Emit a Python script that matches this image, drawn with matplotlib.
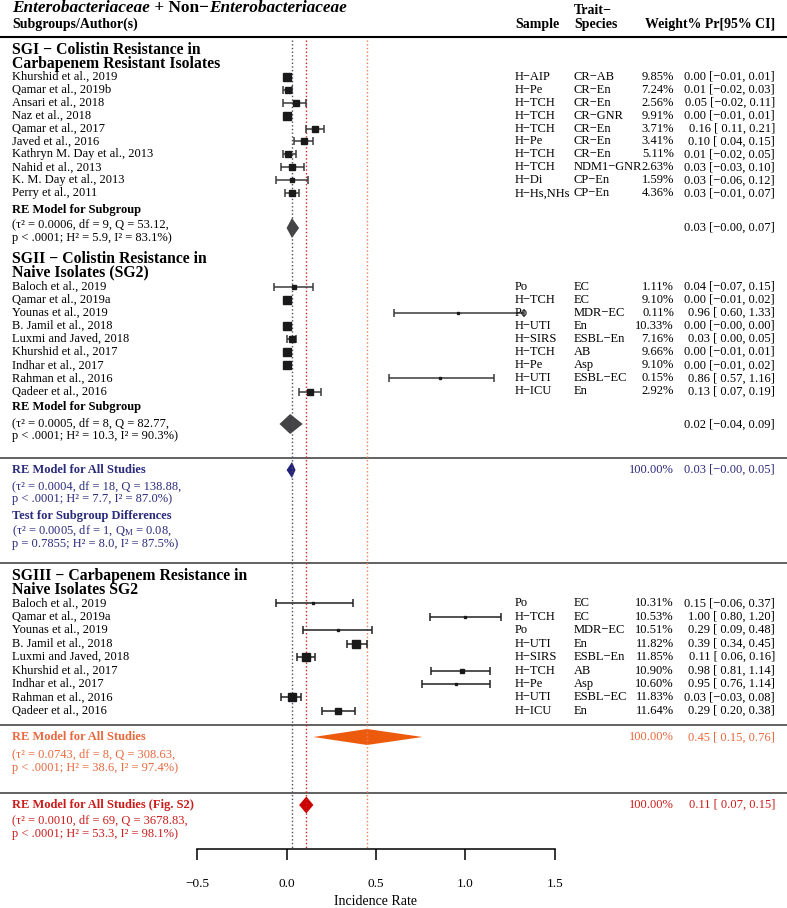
import numpy as np
import matplotlib
matplotlib.use('Agg')
import matplotlib.pyplot as plt
import matplotlib.transforms as mtransforms

plt.rcParams['font.family'] = ['Liberation Serif', 'DejaVu Serif']
plt.rcParams['mathtext.fontset'] = 'custom'
plt.rcParams['mathtext.rm'] = 'Liberation Serif'
plt.rcParams['mathtext.it'] = 'Liberation Serif:italic'
plt.rcParams['mathtext.bf'] = 'Liberation Serif:bold'

# ---- data: SGI + SGII (one model) ----
sg1_authors = ['Khurshid et al., 2019', 'Qamar et al., 2019b', 'Ansari et al., 2018', 'Naz et al., 2018',
               'Qamar et al., 2017', 'Javed et al., 2016', 'Kathryn M. Day et al., 2013', 'Nahid et al., 2013',
               'K. M. Day et al., 2013', 'Perry et al., 2011']
sg1_sample = ['H−AIP', 'H−Pe', 'H−TCH', 'H−TCH', 'H−TCH', 'H−Pe', 'H−TCH', 'H−TCH', 'H−Di', 'H−Hs,NHs']
sg1_species = ['CR−AB', 'CR−En', 'CR−En', 'CR−GNR', 'CR−En', 'CR−En', 'CR−En', 'NDM1−GNR', 'CP−En', 'CP−En']
sg1_weight = [9.85, 7.24, 2.56, 9.91, 3.71, 3.41, 5.11, 2.63, 1.59, 4.36]
sg1_est = [0.00, 0.01, 0.05, 0.00, 0.16, 0.10, 0.01, 0.03, 0.03, 0.03]
sg1_lo = [-0.01, -0.02, -0.02, -0.01, 0.11, 0.04, -0.02, -0.03, -0.06, -0.01]
sg1_hi = [0.01, 0.03, 0.11, 0.01, 0.21, 0.15, 0.05, 0.10, 0.12, 0.07]
sg1_re = (0.03, -0.00, 0.07)

sg2_authors = ['Baloch et al., 2019', 'Qamar et al., 2019a', 'Younas et al., 2019', 'B. Jamil et al., 2018',
               'Luxmi and Javed, 2018', 'Khurshid et al., 2017', 'Indhar et al., 2017', 'Rahman et al., 2016',
               'Qadeer et al., 2016']
sg2_sample = ['Po', 'H−TCH', 'Po', 'H−UTI', 'H−SIRS', 'H−TCH', 'H−Pe', 'H−UTI', 'H−ICU']
sg2_species = ['EC', 'EC', 'MDR−EC', 'En', 'ESBL−En', 'AB', 'Asp', 'ESBL−EC', 'En']
sg2_weight = [1.11, 9.10, 0.11, 10.33, 7.16, 9.66, 9.10, 0.15, 2.92]
sg2_est = [0.04, 0.00, 0.96, 0.00, 0.03, 0.00, 0.00, 0.86, 0.13]
sg2_lo = [-0.07, -0.01, 0.60, -0.00, 0.00, -0.01, -0.01, 0.57, 0.07]
sg2_hi = [0.15, 0.02, 1.33, 0.00, 0.05, 0.01, 0.02, 1.16, 0.19]
sg2_re = (0.02, -0.04, 0.09)
all12_re = (0.03, -0.00, 0.05)

# ---- data: SGIII ----
sg3_authors = sg2_authors
sg3_sample = ['Po', 'H−TCH', 'Po', 'H−UTI', 'H−SIRS', 'H−TCH', 'H−Pe', 'H−UTI', 'H−ICU']
sg3_species = ['EC', 'EC', 'MDR−EC', 'En', 'ESBL−En', 'AB', 'Asp', 'ESBL−EC', 'En']
sg3_weight = [10.31, 10.53, 10.51, 11.82, 11.85, 10.90, 10.60, 11.83, 11.64]
sg3_est = [0.15, 1.00, 0.29, 0.39, 0.11, 0.98, 0.95, 0.03, 0.29]
sg3_lo = [-0.06, 0.80, 0.09, 0.34, 0.06, 0.81, 0.76, -0.03, 0.20]
sg3_hi = [0.37, 1.20, 0.48, 0.45, 0.16, 1.14, 1.14, 0.08, 0.38]
sg3_re = (0.45, 0.15, 0.76)
figs2_re = (0.11, 0.07, 0.15)

xticks = [-0.5, 0.0, 0.5, 1.0, 1.5]
xticklabels = ['−0.5', '0.0', '0.5', '1.0', '1.5']

# ---- layout (pixels) ----
W, H = 787, 908
X0, SC = 286.6, 178.8   # pixel of 0.0 and pixels per unit


def fmt_ci(e, l, h):
    def f(v):
        s = '%.2f' % abs(v)
        if v < 0 or (v == 0 and str(v).startswith('-')):
            return '−' + s
        return ' ' + s
    return '%.2f [%s, %s]' % (e, f(l), f(h).strip())


def sizes(lo, hi, power=1.2):
    w = 1 / np.maximum(np.array(hi) - np.array(lo), 0.02) ** 2
    lw = np.log(w)
    n = (lw - lw.min()) / (lw.max() - lw.min())
    return (2.4 + 6.4 * n ** power) * 72 / 100


fig = plt.figure(figsize=(W / 100, H / 100), dpi=100)
ax = fig.add_axes([0, 0, 1, 1])
ax.set_xlim(-X0 / SC, (W - X0) / SC)
ax.set_ylim(H, 0)
tr = mtransforms.blended_transform_factory(ax.transAxes, ax.transData)


def txt(xp, yp, s, size=9, **kw):
    kw.setdefault('va', 'center')
    return ax.text(xp / W, yp, s, transform=tr, fontsize=size, **kw)


# header
t1 = txt(12, 8.5, 'Enterobacteriaceae', size=12.4, weight='bold', style='italic')
t2 = ax.annotate(' + Non−', xy=(1, 0), xycoords=t1, va='bottom', fontsize=12.4, weight='bold')
ax.annotate('Enterobacteriaceae', xy=(1, 0), xycoords=t2, va='bottom', fontsize=12.4,
            weight='bold', style='italic')
txt(12, 24.5, 'Subgroups/Author(s)', size=10, weight='bold')
txt(515, 24.5, 'Sample', size=10, weight='bold')
txt(574, 10.5, 'Trait−', size=10, weight='bold')
txt(574, 24.5, 'Species', size=10, weight='bold')
txt(775, 24.5, 'Weight% Pr[95% CI]', size=10, weight='bold', ha='right')

# horizontal rules
ax.axhline(37, color='black', lw=1.5)
for yy in [457.5, 562.5, 725, 792.5]:
    ax.axhline(yy, color='#555555', lw=1.3)

# reference lines
ax.plot([all12_re[0]] * 2, [40, 849], ls=':', color='#4a4a6a', lw=1.0)
ax.plot([figs2_re[0]] * 2, [40, 849], ls=':', color='#cc2222', lw=1.0)
ax.plot([sg3_re[0]] * 2, [40, 849], ls=':', color='#e8805a', lw=1.0)

sz12 = sizes(sg1_lo + sg2_lo, sg1_hi + sg2_hi)
sz3 = sizes(sg3_lo, sg3_hi)


def study_rows(y0, step, authors, sample, species, weight, est, lo, hi, ms, color):
    ys = y0 + step * np.arange(len(authors))
    for i, y in enumerate(ys):
        txt(12, y, authors[i])
        txt(515, y, sample[i])
        txt(574, y, species[i])
        txt(674, y, '%.2f%%' % weight[i], ha='right')
        txt(775, y, fmt_ci(est[i], lo[i], hi[i]), ha='right')
        ax.errorbar(est[i], y, xerr=[[est[i] - lo[i]], [hi[i] - est[i]]], fmt='none',
                    ecolor=color, elinewidth=1.1, capsize=2.8, capthick=1.1)
        ax.plot(est[i], y, marker='s', ms=ms[i], color='#1a1a1a', ls='none')


def diamond(re, y, h, color):
    e, l, hh = re
    ax.fill([l, e, hh, e], [y, y - h / 2, y, y + h / 2], color=color, lw=0)


def model(y, title, stats, color):
    txt(12, y[0], title, weight='bold', color=color)
    txt(12, y[1], stats[0], color=color)
    txt(12, y[2], stats[1], color=color)


# SGI
txt(12, 50, 'SGI − Colistin Resistance in', size=11.3, weight='bold')
txt(12, 63.5, 'Carbapenem Resistant Isolates', size=11.3, weight='bold')
study_rows(76.7, 12.95, sg1_authors, sg1_sample, sg1_species, sg1_weight, sg1_est, sg1_lo, sg1_hi,
           sz12[:10], '#3a3a3a')
model([210.5, 224, 237.5], 'RE Model for Subgroup',
      ['(τ² = 0.0006, df = 9, Q = 53.12,', 'p < .0001; H² = 5.9, I² = 83.1%)'], 'black')
diamond(sg1_re, 228, 20, '#444444')
txt(775, 228, fmt_ci(*sg1_re), ha='right')

# SGII
txt(12, 259, 'SGII − Colistin Resistance in', size=11.3, weight='bold')
txt(12, 272.5, 'Naive Isolates (SG2)', size=11.3, weight='bold')
study_rows(286.7, 13.1, sg2_authors, sg2_sample, sg2_species, sg2_weight, sg2_est, sg2_lo, sg2_hi,
           sz12[10:], '#3a3a3a')
model([407, 423, 436.5], 'RE Model for Subgroup',
      ['(τ² = 0.0005, df = 8, Q = 82.77,', 'p < .0001; H² = 10.3, I² = 90.3%)'], 'black')
diamond(sg2_re, 424, 20, '#444444')
txt(775, 425, fmt_ci(*sg2_re), ha='right')

# all studies SGI+SGII
navy = '#2b2b7c'
model([470, 486, 499], 'RE Model for All Studies',
      ['(τ² = 0.0004, df = 18, Q = 138.88,', 'p < .0001; H² = 7.7, I² = 87.0%)'], navy)
diamond(all12_re, 470, 16, '#22227a')
txt(674, 470, '100.00%', ha='right', color=navy)
txt(775, 470, fmt_ci(*all12_re), ha='right', color=navy)
model([516, 531, 544.5], 'Test for Subgroup Differences',
      ['(τ² = 0.0005, df = 1, Q$_\\mathregular{M}$ = 0.08,', 'p = 0.7855; H² = 8.0, I² = 87.5%)'], navy)

# SGIII
txt(12, 576, 'SGIII − Carbapenem Resistance in', size=11.3, weight='bold')
txt(12, 589.5, 'Naive Isolates SG2', size=11.3, weight='bold')
study_rows(603.3, 13.45, sg3_authors, sg3_sample, sg3_species, sg3_weight, sg3_est, sg3_lo, sg3_hi,
           sz3, '#222222')
orange = '#e8693e'
model([737.5, 754, 767.5], 'RE Model for All Studies',
      ['(τ² = 0.0743, df = 8, Q = 308.63,', 'p < .0001; H² = 38.6, I² = 97.4%)'], orange)
diamond(sg3_re, 737, 16, '#ec5a0e')
txt(674, 737.5, '100.00%', ha='right', color=orange)
txt(775, 737.5, fmt_ci(*sg3_re), ha='right', color=orange)

# Fig. S2
red = '#cc1b1b'
model([805, 820.5, 834], 'RE Model for All Studies (Fig. S2)',
      ['(τ² = 0.0010, df = 69, Q = 3678.83,', 'p < .0001; H² = 53.3, I² = 98.1%)'], red)
diamond(figs2_re, 805, 17, '#cc0000')
txt(674, 805, '100.00%', ha='right', color=red)
txt(775, 805, fmt_ci(*figs2_re), ha='right', color=red)

# x axis
for s in ['top', 'left', 'right']:
    ax.spines[s].set_visible(False)
ax.spines['bottom'].set_position(('data', 849))
ax.spines['bottom'].set_bounds(-0.5, 1.5)
ax.spines['bottom'].set_linewidth(1.1)
ax.set_yticks([])
ax.set_xticks(xticks)
ax.set_xticklabels(xticklabels)
ax.tick_params(axis='x', direction='out', length=8, width=1.1, pad=13, labelsize=9.5)
ax.set_xlabel('Incidence Rate', fontsize=10)
ax.xaxis.set_label_coords(375 / W, (H - 895) / H)

fig.savefig('out.png', dpi=100)
